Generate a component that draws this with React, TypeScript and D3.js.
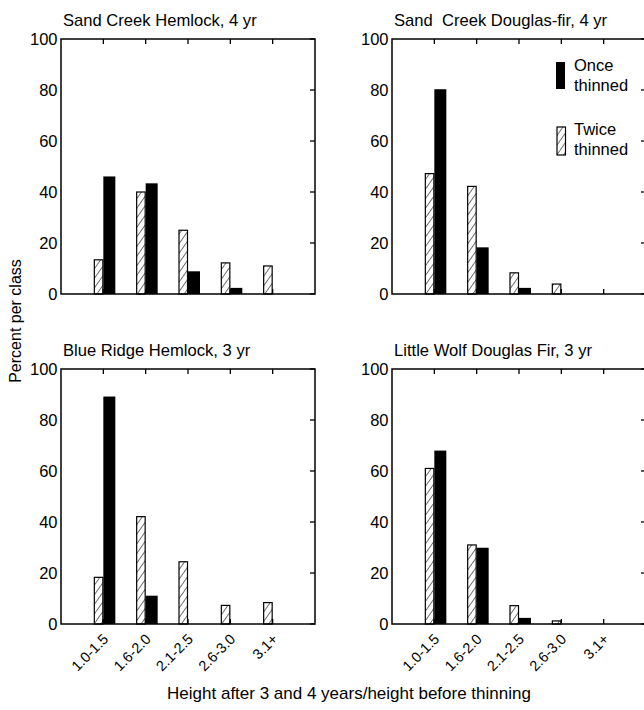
import React from "react";
import * as d3 from "d3";

const categories = ["1.0-1.5", "1.6-2.0", "2.1-2.5", "2.6-3.0", "3.1+"];
const yTicks = [0, 20, 40, 60, 80, 100];

const titles = [
  "Sand Creek Hemlock, 4 yr",
  "Sand  Creek Douglas-fir, 4 yr",
  "Blue Ridge Hemlock, 3 yr",
  "Little Wolf Douglas Fir, 3 yr",
];

const twiceSandHemlock = [13.4, 40, 25, 12.2, 11];
const onceSandHemlock = [46.1, 43.4, 8.9, 2.4, 0];
const twiceSandFir = [47.2, 42.2, 8.3, 3.9, 0];
const onceSandFir = [80.3, 18.3, 2.4, 0, 0];
const twiceBlueHemlock = [18.3, 42.1, 24.4, 7.3, 8.4];
const onceBlueHemlock = [89.2, 11.1, 0, 0, 0];
const twiceLittleWolf = [61, 31, 7.2, 1.2, 0];
const onceLittleWolf = [68, 29.9, 2.4, 0, 0];

const twiceSeries = [twiceSandHemlock, twiceSandFir, twiceBlueHemlock, twiceLittleWolf];
const onceSeries = [onceSandHemlock, onceSandFir, onceBlueHemlock, onceLittleWolf];

const FONT = "'Liberation Sans', Arial, Helvetica, sans-serif";

const panelLayout = [
  { x0: 61, x1: 315, y0: 39, y1: 294, xLabels: false },
  { x0: 392, x1: 646, y0: 39, y1: 294, xLabels: false },
  { x0: 61, x1: 315, y0: 369, y1: 624, xLabels: true },
  { x0: 392, x1: 646, y0: 369, y1: 624, xLabels: true },
];

function Panel({ idx }: { idx: number }) {
  const L = panelLayout[idx];
  const x = d3.scaleLinear().domain([0, categories.length + 1]).range([L.x0, L.x1]);
  const y = d3.scaleLinear().domain([0, 100]).range([L.y1, L.y0]);
  const twice = twiceSeries[idx];
  const once = onceSeries[idx];
  const hw = 9.5;
  const bw = 12;
  return (
    <g>
      <text x={L.x0 + 2} y={L.y0 - 13} fontSize={16.6} fontFamily={FONT} style={{ whiteSpace: "pre" }}>
        {titles[idx]}
      </text>
      {categories.map((c, i) => {
        const cx = x(i + 1);
        const tv = twice[i];
        const ov = once[i];
        return (
          <g key={c}>
            {tv > 0 && (
              <rect
                x={cx - hw + 0.5}
                y={y(tv)}
                width={hw - 1}
                height={y(0) - y(tv)}
                fill="url(#hatch)"
                stroke="#000"
                strokeWidth={1.2}
              />
            )}
            {ov > 0 && (
              <rect x={cx} y={y(ov)} width={bw} height={y(0) - y(ov)} fill="#000" />
            )}
          </g>
        );
      })}
      {categories.map((c, i) => (
        <g key={"t" + c}>
          <line x1={x(i + 1)} x2={x(i + 1)} y1={L.y0} y2={L.y0 + 5} stroke="#000" strokeWidth={1.3} />
          <line x1={x(i + 1)} x2={x(i + 1)} y1={L.y1} y2={L.y1 - 5} stroke="#000" strokeWidth={1.3} />
        </g>
      ))}
      {yTicks.map((t) => (
        <line key={"r" + t} x1={L.x1} x2={L.x1 - 5} y1={y(t)} y2={y(t)} stroke="#000" strokeWidth={1.3} />
      ))}
      <rect x={L.x0} y={L.y0} width={L.x1 - L.x0} height={L.y1 - L.y0} fill="none" stroke="#000" strokeWidth={1.5} />
      {yTicks.map((t) => (
        <text
          key={"yl" + t}
          x={L.x0 - 3.5}
          y={y(t)}
          dy="0.36em"
          textAnchor="end"
          fontSize={16.5}
          fontFamily={FONT}
        >
          {t}
        </text>
      ))}
      {L.xLabels &&
        categories.map((c, i) => (
          <text
            key={"xl" + c}
            transform={`translate(${x(i + 1) + 6},${L.y1 + 16}) rotate(-45)`}
            textAnchor="end"
            fontSize={14.5}
            fontFamily={FONT}
          >
            {c}
          </text>
        ))}
    </g>
  );
}

export default function App() {
  return (
    <svg width={644} height={710} style={{ position: "absolute", left: 0, top: 0, background: "#fff" }}>
      <defs>
        <pattern id="hatch" patternUnits="userSpaceOnUse" width={5.5} height={5.5} patternTransform="rotate(35)">
          <rect width={5.5} height={5.5} fill="#fff" />
          <line x1={0} y1={0} x2={0} y2={5.5} stroke="#000" strokeWidth={1.1} />
        </pattern>
      </defs>
      <rect width={644} height={710} fill="#fff" />
      {[0, 1, 2, 3].map((i) => (
        <Panel key={i} idx={i} />
      ))}
      <rect x={556} y={62} width={9} height={27} fill="#000" />
      <text x={574} y={71} fontSize={16.5} fontFamily={FONT}>Once</text>
      <text x={574} y={91} fontSize={16.5} fontFamily={FONT}>thinned</text>
      <rect x={557} y={127} width={8.5} height={28} fill="url(#hatch)" stroke="#000" strokeWidth={1.2} />
      <text x={574} y={135} fontSize={16.5} fontFamily={FONT}>Twice</text>
      <text x={574} y={155} fontSize={16.5} fontFamily={FONT}>thinned</text>
      <text
        transform="translate(21,321) rotate(-90)"
        textAnchor="middle"
        fontSize={16}
        fontFamily={FONT}
      >
        Percent per class
      </text>
      <text x={349} y={699} textAnchor="middle" fontSize={17} fontFamily={FONT}>
        Height after 3 and 4 years/height before thinning
      </text>
    </svg>
  );
}
